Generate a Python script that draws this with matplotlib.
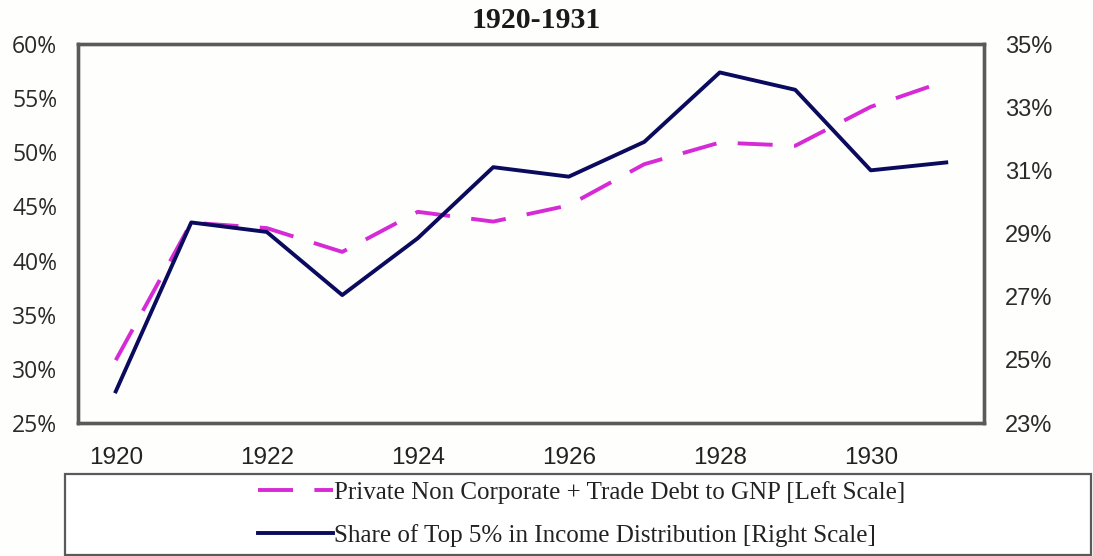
import matplotlib
matplotlib.use("Agg")
import matplotlib.pyplot as plt
from matplotlib.patches import Rectangle
from matplotlib.lines import Line2D
from matplotlib.ticker import FuncFormatter

years = [1920, 1921, 1922, 1923, 1924, 1925, 1926, 1927, 1928, 1929, 1930, 1931]
# left scale, % of GNP
debt_to_gnp = [30.8, 43.5, 43.0, 40.8, 44.5, 43.6, 45.1, 48.9, 50.9, 50.6, 54.2, 56.6]
# right scale, % of income
top5_share = [24.0, 29.35, 29.05, 27.05, 28.85, 31.1, 30.8, 31.9, 34.1, 33.55, 31.0, 31.25]

left_ticks = [25, 30, 35, 40, 45, 50, 55, 60]
right_ticks = [23, 25, 27, 29, 31, 33, 35]
year_ticks = [1920, 1922, 1924, 1926, 1928, 1930]

debt_label = "Private Non Corporate + Trade Debt to GNP [Left Scale]"
share_label = "Share of Top 5% in Income Distribution [Right Scale]"

pink = "#d62ad6"
navy = "#0a0a5e"
frame = "#5a5a5a"

W, H = 1093, 556
fig = plt.figure(figsize=(W / 100, H / 100), dpi=100)
fig.patch.set_facecolor("#fefefc")

ax = fig.add_axes([78 / W, 1 - 423 / H, (984 - 78) / W, (423 - 44) / H])
ax.set_facecolor("#fefefc")
ax2 = ax.twinx()

ax.plot(years, debt_to_gnp, color=pink, lw=2.8, dashes=(9, 5.5), zorder=3)
ax2.plot(years, top5_share, color=navy, lw=2.8, zorder=4)

ax.set_xlim(1919.5, 1931.5)
ax.set_ylim(25, 60)
ax2.set_ylim(23, 35)

ax.set_xticks(year_ticks)
ax.set_xticklabels([str(y) for y in year_ticks], fontfamily="Liberation Sans",
                   fontsize=17.5, color="#222222")
ax.set_yticks(left_ticks)
ax.yaxis.set_major_formatter(FuncFormatter(lambda v, p: f"{v:.0f}%"))
ax2.set_yticks(right_ticks)
ax2.yaxis.set_major_formatter(FuncFormatter(lambda v, p: f"{v:.0f}%"))

ax.tick_params(axis="x", length=0, pad=17)
ax.tick_params(axis="y", length=0, pad=15)
ax2.tick_params(axis="y", length=0, pad=15)
for lab in ax.get_yticklabels():
    lab.set_fontfamily("Open Sans")
    lab.set_fontsize(16.5)
    lab.set_color("#2a2a2a")
for lab in ax2.get_yticklabels():
    lab.set_fontfamily("Liberation Sans")
    lab.set_fontsize(17)
    lab.set_color("#2a2a2a")

for a in (ax, ax2):
    for s in a.spines.values():
        s.set_color(frame)
        s.set_linewidth(2.4)

fig.text(536 / W, 1 - 20 / H, "1920-1931", ha="center", va="center",
         fontfamily="Liberation Serif", fontweight="bold", fontsize=21.5, color="#1a1a1a")

# legend box below the plot
fig.patches.append(Rectangle((65 / W, 1 - 555 / H), (1091 - 65) / W, (555 - 474) / H,
                             transform=fig.transFigure, facecolor="white",
                             edgecolor=frame, lw=1.6, zorder=1))
handles = [Line2D([], [], color=pink, lw=2.8, dashes=(9, 5.5)),
           Line2D([], [], color=navy, lw=2.8)]
leg = fig.legend(handles, [debt_label, share_label], loc="center",
                 bbox_to_anchor=(582 / W, 1 - 514 / H), frameon=False,
                 prop={"family": "Liberation Serif", "size": 18},
                 handlelength=3.0, handletextpad=0.05, labelspacing=0.8)
for t in leg.get_texts():
    t.set_color("#222222")

fig.savefig("out.png", dpi=100, facecolor=fig.get_facecolor())
